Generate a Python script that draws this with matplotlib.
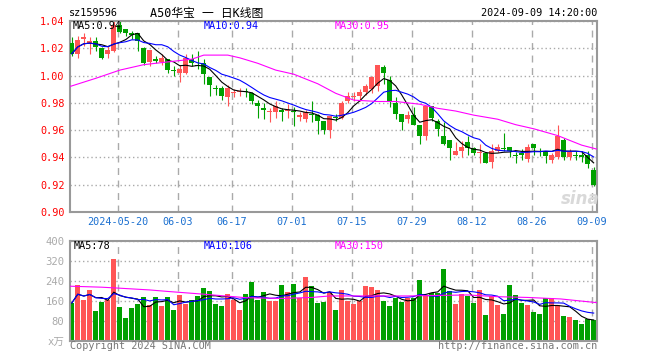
import numpy as np
import pandas as pd
import matplotlib
matplotlib.use("Agg")
import matplotlib.pyplot as plt

plt.rcParams["font.family"] = ["DejaVu Sans Mono", "Noto Sans CJK SC"]

# daily bars, index 0 = 2024-05-08 ... index 87 = 2024-09-09
opens = [1.024, 1.016, 1.027, 1.024, 1.025, 1.020, 1.016, 1.018, 1.037, 1.034,
         1.031, 1.031, 1.020, 1.010, 1.012, 1.010, 1.012, 1.004, 1.002, 1.002,
         1.012, 1.008, 1.009, 0.999, 0.991, 0.991, 0.984, 0.987, 0.988, 0.989,
         0.987, 0.980, 0.976, 0.973, 0.973, 0.975, 0.974, 0.974, 0.970, 0.968,
         0.972, 0.971, 0.967, 0.960, 0.970, 0.969, 0.981, 0.984, 0.985, 0.988,
         0.990, 0.992, 1.006, 0.997, 0.980, 0.972, 0.968, 0.971, 0.964, 0.956,
         0.978, 0.967, 0.956, 0.953, 0.942, 0.945, 0.951, 0.947, 0.943, 0.943,
         0.937, 0.945, 0.947, 0.948, 0.942, 0.943, 0.939, 0.950, 0.945, 0.944,
         0.938, 0.940, 0.953, 0.940, 0.942, 0.942, 0.942, 0.931]
highs = [1.028, 1.029, 1.031, 1.028, 1.028, 1.021, 1.022, 1.040, 1.041, 1.034,
         1.033, 1.031, 1.021, 1.019, 1.014, 1.016, 1.012, 1.007, 1.008, 1.016,
         1.016, 1.018, 1.012, 0.999, 0.993, 0.992, 0.993, 0.990, 0.991, 0.991,
         0.988, 0.982, 0.980, 0.976, 0.981, 0.976, 0.979, 0.977, 0.973, 0.975,
         0.981, 0.972, 0.967, 0.970, 0.972, 0.981, 0.988, 0.988, 0.990, 0.994,
         1.000, 1.008, 1.008, 1.000, 0.984, 0.972, 0.974, 0.977, 0.964, 0.978,
         0.978, 0.968, 0.966, 0.953, 0.951, 0.952, 0.956, 0.948, 0.950, 0.944,
         0.950, 0.950, 0.958, 0.948, 0.944, 0.946, 0.950, 0.950, 0.947, 0.945,
         0.943, 0.964, 0.954, 0.946, 0.945, 0.945, 0.945, 0.933]
lows = [1.014, 1.013, 1.022, 1.016, 1.018, 1.012, 1.013, 1.017, 1.031, 1.029,
        1.027, 1.018, 1.008, 1.007, 1.009, 1.008, 1.002, 1.000, 0.995, 1.001,
        1.007, 1.005, 0.994, 0.985, 0.986, 0.982, 0.978, 0.984, 0.985, 0.984,
        0.979, 0.969, 0.968, 0.966, 0.969, 0.967, 0.969, 0.963, 0.967, 0.966,
        0.966, 0.957, 0.957, 0.954, 0.967, 0.968, 0.980, 0.981, 0.981, 0.986,
        0.987, 0.989, 0.994, 0.977, 0.968, 0.960, 0.965, 0.964, 0.950, 0.953,
        0.967, 0.956, 0.949, 0.938, 0.942, 0.940, 0.942, 0.942, 0.936, 0.936,
        0.932, 0.944, 0.945, 0.940, 0.936, 0.938, 0.937, 0.942, 0.941, 0.936,
        0.936, 0.939, 0.938, 0.938, 0.938, 0.937, 0.932, 0.919]
closes = [1.016, 1.026, 1.028, 1.025, 1.021, 1.013, 1.019, 1.037, 1.032, 1.031,
          1.030, 1.025, 1.009, 1.019, 1.011, 1.013, 1.004, 1.003, 1.005, 1.013,
          1.009, 1.007, 1.001, 0.993, 0.990, 0.985, 0.991, 0.988, 0.989, 0.988,
          0.981, 0.978, 0.975, 0.974, 0.978, 0.973, 0.975, 0.973, 0.971, 0.973,
          0.971, 0.967, 0.960, 0.970, 0.969, 0.980, 0.985, 0.985, 0.988, 0.992,
          0.999, 1.008, 1.002, 0.981, 0.972, 0.966, 0.971, 0.964, 0.956, 0.978,
          0.969, 0.961, 0.950, 0.947, 0.945, 0.948, 0.947, 0.943, 0.944, 0.936,
          0.945, 0.948, 0.946, 0.945, 0.941, 0.942, 0.948, 0.947, 0.944, 0.941,
          0.942, 0.956, 0.940, 0.944, 0.941, 0.940, 0.935, 0.920]
# volume in 10k lots
volumes = [151, 221, 164, 204, 120, 155, 164, 328, 135, 91,
           131, 148, 175, 144, 175, 140, 175, 124, 183, 148,
           162, 178, 211, 200, 147, 140, 187, 162, 122, 187,
           234, 163, 195, 157, 160, 223, 195, 227, 169, 255,
           219, 152, 156, 196, 123, 203, 159, 147, 159, 219,
           216, 203, 159, 139, 172, 155, 172, 172, 243, 183,
           189, 189, 287, 199, 147, 187, 179, 152, 203, 103,
           179, 143, 107, 223, 183, 152, 143, 113, 107, 172,
           169, 143, 99, 95, 83, 67, 87, 83]

# 30-day averages (they need history before the window)
ma30_idx = [-0.3, 4, 8, 12, 16, 20, 22, 26, 28, 31, 34, 37, 41, 44, 47, 51,
            54, 58, 61, 64, 67, 71, 74, 77, 81, 85, 87.6]
ma30_val = [0.992, 0.998, 1.004, 1.008, 1.010, 1.012, 1.015, 1.015, 1.013,
            1.009, 1.004, 1.001, 0.994, 0.987, 0.982, 0.981, 0.981, 0.979,
            0.976, 0.974, 0.971, 0.968, 0.964, 0.961, 0.956, 0.949, 0.946]
vol_ma30_idx = [-0.3, 5, 8, 13, 16, 22, 29, 35, 40, 43, 48, 56, 66, 71, 76,
                81.5, 87.6]
vol_ma30_val = [218, 214, 210, 203, 197, 186, 172, 169, 173, 179, 179, 179,
                183, 176, 173, 167, 152]

tick_pos = [8, 18, 27, 37, 47, 57, 67, 77, 87]
tick_labels = ["2024-05-20", "06-03", "06-17", "07-01", "07-15", "07-29",
               "08-12", "08-26", "09-09"]
price_ticks = [0.90, 0.92, 0.94, 0.96, 0.98, 1.00, 1.02, 1.04]
vol_ticks = [0, 80, 160, 240, 320, 400]

W, H = 660, 360
UP, DOWN = "#ff5555", "#00a000"
GRID = "#aaaaaa"


def px_axes(fig, x0, y0, x1, y1):
    return fig.add_axes([x0 / W, 1 - y1 / H, (x1 - x0) / W, (y1 - y0) / H])


def ftext(fig, x, y, s, **kw):
    fig.text(x / W, 1 - y / H, s, **kw)


df = pd.DataFrame({"open": opens, "high": highs, "low": lows,
                   "close": closes, "vol": volumes})
x = np.arange(len(df))
up = df["close"] >= df["open"]
colors = np.where(up, UP, DOWN)

fig = plt.figure(figsize=(W / 100, H / 100), dpi=100)
fig.patch.set_facecolor("white")

ax = px_axes(fig, 70, 21, 597, 212)
axv = px_axes(fig, 70, 240.7, 597, 340.7)

for a in (ax, axv):
    a.set_xlim(-0.3, 87.55)
    for s in a.spines.values():
        s.set_color("#999999")
        s.set_linewidth(1.5)
    a.set_xticks(np.array(tick_pos) - 0.27)
    a.tick_params(length=0)
    a.xaxis.grid(True, color=GRID, linestyle=(0, (5, 4)), linewidth=1.0)
    a.yaxis.grid(True, color=GRID, linestyle=(0, (1, 2)), linewidth=1.0)
    a.set_axisbelow(True)

# candles
body_lo = np.minimum(df["open"], df["close"])
body_h = np.maximum((df["close"] - df["open"]).abs(), 0.0006)
ax.vlines(x, df["low"], df["high"], colors=colors, linewidth=0.8, zorder=2)
ax.bar(x, body_h, bottom=body_lo, width=0.78, color=colors, linewidth=0, zorder=3)

ma5 = df["close"].rolling(5, min_periods=1).mean()
ma10 = df["close"].rolling(10, min_periods=1).mean()
ax.plot(x, ma5, color="black", linewidth=0.8, zorder=4)
ax.plot(x, ma10, color="#0000ff", linewidth=0.8, zorder=4)
ax.plot(ma30_idx, ma30_val, color="#ff00ff", linewidth=0.8, zorder=4)

ax.set_ylim(0.90, 1.04)
ax.set_yticks(price_ticks)
ax.set_yticklabels([f"{v:.2f}" for v in price_ticks], color="red", fontsize=7.3)
ax.set_xticklabels(tick_labels, color="#1a6fd0", fontsize=7.3)
ax.tick_params(axis="y", pad=4)
ax.tick_params(axis="x", pad=3.5)

# faint sina watermark, bottom right of the price panel
ftext(fig, 580, 199, "sina", color="#d9d9d9", fontsize=12, style="italic",
      fontweight="bold", family="DejaVu Sans", ha="center", va="center",
      zorder=1)

# volume
axv.bar(x, df["vol"], width=0.78, color=colors, linewidth=0, zorder=2)
vma5 = df["vol"].rolling(5, min_periods=1).mean()
vma10 = df["vol"].rolling(10, min_periods=1).mean()
axv.plot(x, vma5, color="black", linewidth=0.8, zorder=4)
axv.plot(x, vma10, color="#0000ff", linewidth=0.8, zorder=4)
axv.plot(vol_ma30_idx, vol_ma30_val, color="#ff00ff", linewidth=0.8, zorder=4)
axv.set_ylim(0, 400)
axv.set_yticks(vol_ticks)
axv.set_yticklabels(["x万"] + [str(v) for v in vol_ticks[1:]],
                    color="#aaaaaa", fontsize=7.6)
axv.tick_params(axis="y", pad=4)
axv.set_xticklabels([])

# header and legends
ftext(fig, 69, 13, "sz159596", fontsize=7.3, va="center")
ftext(fig, 150, 13, "A50华宝 一 日K线图", fontsize=8.5, va="center")
ftext(fig, 597, 13, "2024-09-09 14:20:00", fontsize=7.3, va="center", ha="right")

ftext(fig, 73, 26, "MA5:0.94", fontsize=7.3, va="center", color="black")
ftext(fig, 204, 26, "MA10:0.94", fontsize=7.3, va="center", color="#0000ff")
ftext(fig, 335, 26, "MA30:0.95", fontsize=7.3, va="center", color="#ff00ff")
ftext(fig, 74, 246, "MA5:78", fontsize=7.3, va="center", color="black")
ftext(fig, 204, 246, "MA10:106", fontsize=7.3, va="center", color="#0000ff")
ftext(fig, 335, 246, "MA30:150", fontsize=7.3, va="center", color="#ff00ff")

ftext(fig, 70, 346, "Copyright 2024 SINA.COM", fontsize=7.3, va="center",
      color="#777777")
ftext(fig, 597, 346, "http://finance.sina.com.cn", fontsize=7.3, va="center",
      ha="right", color="#777777")

fig.savefig("out.png", dpi=100)
